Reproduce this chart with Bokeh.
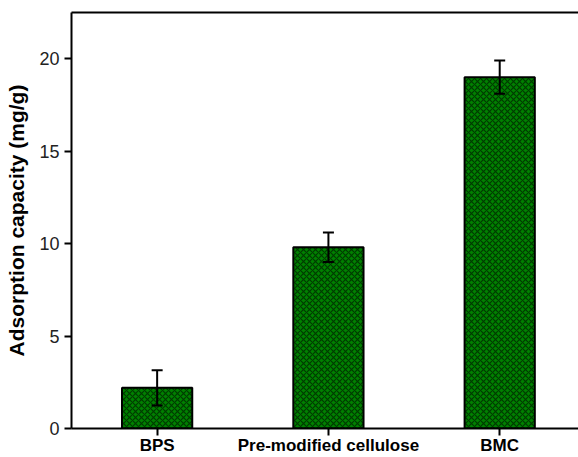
from bokeh.plotting import figure
from bokeh.models import ColumnDataSource, Whisker, TeeHead, LinearAxis, FixedTicker, Range1d
from bokeh.embed import file_html
from bokeh.resources import INLINE

categories = ["BPS", "Pre-modified cellulose", "BMC"]
values = [2.2, 9.8, 19.0]
errors = [0.95, 0.8, 0.9]

xs = [1, 2, 3]
src = ColumnDataSource(data=dict(
    x=xs, top=values,
    upper=[v + e for v, e in zip(values, errors)],
    lower=[v - e for v, e in zip(values, errors)],
))

p = figure(width=578, height=457, output_backend="svg", toolbar_location=None,
           x_range=Range1d(0.5, 3.46), y_range=Range1d(0, 22.5),
           min_border_left=71, min_border_top=12, min_border_right=0, min_border_bottom=10)
p.outline_line_color = None
p.grid.grid_line_color = None
p.background_fill_color = "white"

p.vbar(x="x", top="top", width=0.41, source=src, fill_color="#008000",
       line_color="black", line_width=2,
       hatch_pattern="diagonal_cross", hatch_color="#002800", hatch_scale=6, hatch_weight=1.2, hatch_alpha=0.8)

w = Whisker(base="x", upper="upper", lower="lower", source=src,
            line_color="black", line_width=2, level="overlay")
w.upper_head = TeeHead(size=11, line_width=2, line_color="black")
w.lower_head = TeeHead(size=11, line_width=2, line_color="black")
p.add_layout(w)

# axes
p.xaxis.ticker = FixedTicker(ticks=xs)
p.xaxis.major_label_overrides = {i: c for i, c in zip(xs, categories)}
p.xaxis.major_label_text_font = "Liberation Sans"
p.xaxis.major_label_text_font_style = "bold"
p.xaxis.major_label_text_font_size = "17px"
p.xaxis.major_label_text_color = "black"
p.xaxis.minor_tick_line_color = None
p.xaxis.major_tick_out = 7
p.xaxis.major_tick_in = 0
p.xaxis.axis_line_width = 2
p.xaxis.major_tick_line_width = 2
p.xaxis.major_label_standoff = 0

p.yaxis.ticker = FixedTicker(ticks=[0, 5, 10, 15, 20])
p.yaxis.major_label_text_font = "Liberation Sans"
p.yaxis.major_label_text_font_size = "18px"
p.yaxis.major_label_text_color = "#222222"
p.yaxis.minor_tick_line_color = None
p.yaxis.major_tick_out = 7
p.yaxis.major_tick_in = 0
p.yaxis.axis_line_width = 2
p.yaxis.major_tick_line_width = 2
p.yaxis.major_label_standoff = 5
p.yaxis.axis_label = "Adsorption capacity (mg/g)"
p.yaxis.axis_label_text_font = "Liberation Sans"
p.yaxis.axis_label_text_font_style = "bold"
p.yaxis.axis_label_text_font_size = "21px"
p.yaxis.axis_label_text_color = "black"
p.yaxis.axis_label_standoff = 8

top_ax = LinearAxis(ticker=FixedTicker(ticks=[]), axis_line_width=2,
                    major_label_text_font_size="0px", minor_tick_line_color=None,
                    major_tick_line_color=None)
p.add_layout(top_ax, "above")

open("out.html", "w").write(file_html(p, INLINE))
